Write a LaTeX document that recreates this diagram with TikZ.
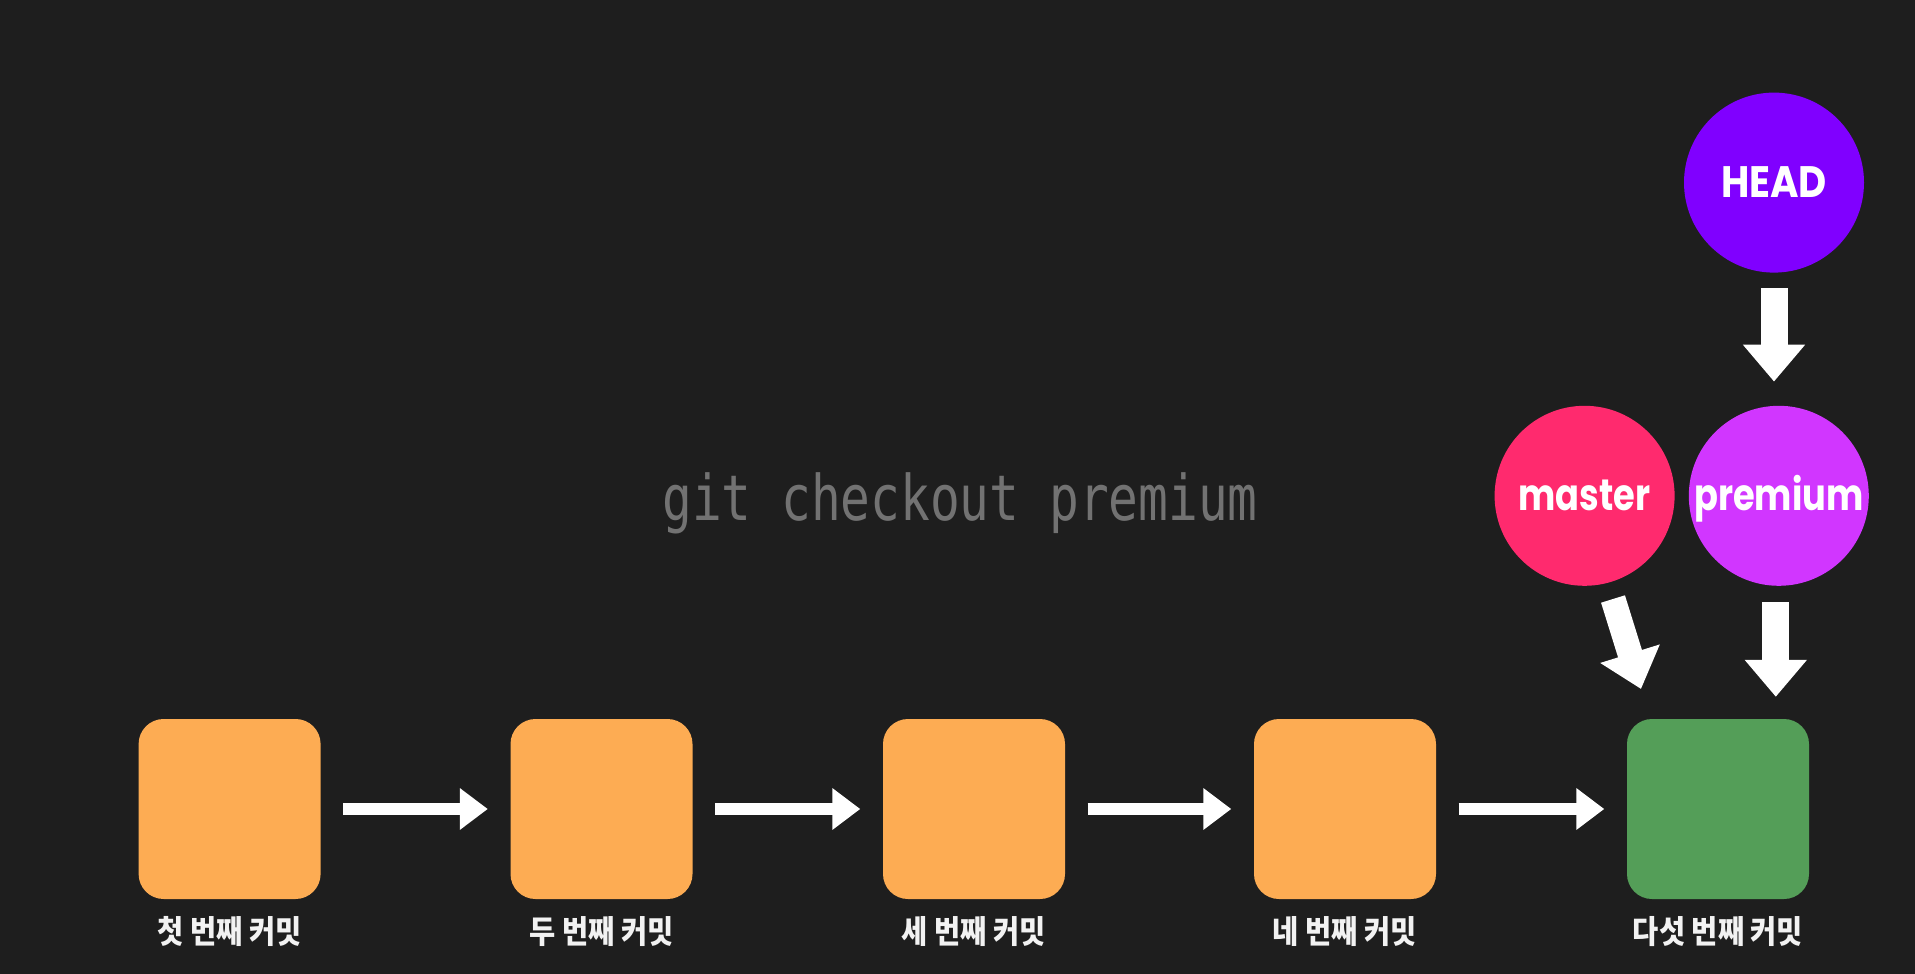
\documentclass[tikz,border=0pt]{standalone}
\usepackage{fontspec}
\usetikzlibrary{arrows.meta}
\newfontfamily\korfont{Noto Sans CJK KR}
\newfontfamily\popfont{Poppins}
\newfontfamily\monofont{DejaVu Sans Mono}
\definecolor{bgc}{RGB}{30,30,30}
\definecolor{commitorange}{RGB}{253,172,83}
\definecolor{commitgreen}{RGB}{84,158,88}
\definecolor{headc}{RGB}{128,0,255}
\definecolor{masterc}{RGB}{255,42,110}
\definecolor{premiumc}{RGB}{209,54,255}
\definecolor{cmdgray}{RGB}{114,114,114}
\definecolor{lblwhite}{RGB}{242,242,242}
\tikzset{
  commit/.style={draw=none, rounded corners=25pt, minimum width=182pt, minimum height=180pt, inner sep=0pt},
  lbl/.style={text=lblwhite, anchor=base, inner sep=0pt, font=\korfont\bfseries\fontsize{32}{36}\selectfont},
  branch/.style={circle, draw=none, minimum size=180pt, inner sep=0pt, text=white, text height=30pt, text depth=0pt, font=\popfont\bfseries\fontsize{44}{50}\selectfont},
  harrow/.style={draw=white, line width=12pt, -{Triangle[width=40pt,length=28pt]}, shorten <=22.5pt, shorten >=22.5pt},
  varrow/.style={draw=white, line width=27pt, -{Triangle[width=60pt,length=37pt]}},
}
\newcommand{\sq}[1]{\scalebox{0.8}[1]{#1}}
\newcommand{\sqk}[1]{\scalebox{0.89}[1]{#1}}
\begin{document}
\begin{tikzpicture}[x=1pt,y=-1pt]
\useasboundingbox (0,0) rectangle (1915,974);
\fill[bgc] (0,0) rectangle (1915,974);
% commits
\node[commit, fill=commitorange] (c1) at (229.6,809) {};
\node[commit, fill=commitorange] (c2) at (601.5,809) {};
\node[commit, fill=commitorange] (c3) at (974,809) {};
\node[commit, fill=commitorange] (c4) at (1345,809) {};
\node[commit, fill=commitgreen] (c5) at (1718,809) {};
% labels
\node[lbl] (l1) at (229.6,943) {\sqk{첫 번째 커밋}};
\node[lbl] (l2) at (601.5,943) {\sqk{두 번째 커밋}};
\node[lbl] (l3) at (974,943) {\sqk{세 번째 커밋}};
\node[lbl] (l4) at (1345,943) {\sqk{네 번째 커밋}};
\node[lbl] (l5) at (1718,943) {\sqk{다섯 번째 커밋}};
% arrows between commits
\draw[harrow] (c1) -- (c2);
\draw[harrow] (c2) -- (c3);
\draw[harrow] (c3) -- (c4);
\draw[harrow] (c4) -- (c5);
% command
\node[anchor=base, inner sep=0pt, text=cmdgray, font=\monofont\fontsize{63}{70}\selectfont] (cmd) at (960,520) {\scalebox{0.785}[1]{git checkout premium}};
% branches
\node[branch, fill=headc] (head) at (1774,182.6) {\scalebox{0.88}[1]{HEAD}};
\node[branch, fill=masterc] (master) at (1584.6,495.8) {\sq{master}};
\node[branch, fill=premiumc] (premium) at (1778.8,495.8) {\sq{premium}};
% pointer arrows
\draw[varrow, shorten <=15.5pt, shorten >=24pt] (head.south) -- (head.south |- premium.north);
\draw[varrow, shorten <=16pt, shorten >=22pt] ([xshift=-3pt]premium.south) -- ([xshift=-3pt]premium.south |- c5.north);
\coordinate (ms) at (1613,599);
\coordinate (me) at (1641,689);
\draw[varrow, line width=25pt] (ms) -- (me);
\end{tikzpicture}
\end{document}
